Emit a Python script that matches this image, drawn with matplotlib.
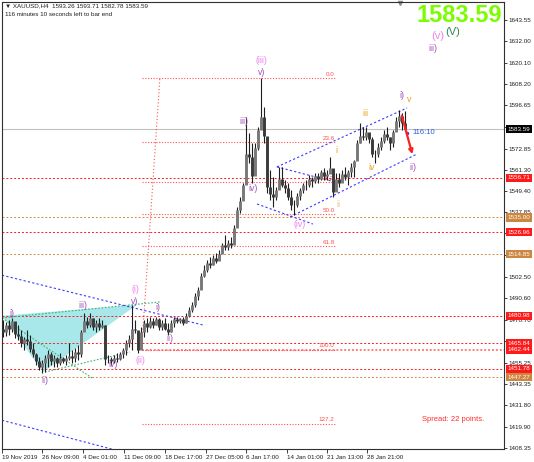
import matplotlib
matplotlib.use('Agg')
import matplotlib.pyplot as plt
import matplotlib.transforms as mtrans
from matplotlib.patches import Polygon
import numpy as np

plt.rcParams['font.family'] = ['Liberation Sans', 'DejaVu Sans']

# ---- XAUUSD H4 bars (about one bar per 3 px) ----
highs = [1478.7, 1477.6, 1478.7, 1479.8, 1477.6, 1476.0, 1473.2, 1469.4, 1473.2, 1470.5,
         1466.1, 1460.6, 1458.4, 1456.7, 1459.5, 1462.2, 1461.1, 1459.5, 1458.4, 1460.6,
         1458.4, 1459.5, 1466.1, 1462.2, 1463.3, 1465.0, 1473.2, 1482.5, 1480.3, 1482.5,
         1479.8, 1478.7, 1479.8, 1478.7, 1476.0, 1459.5, 1458.4, 1459.5, 1460.6, 1461.1,
         1463.3, 1467.7, 1470.5, 1486.9, 1478.7, 1471.5, 1474.9, 1478.7, 1479.8, 1480.3,
         1479.8, 1480.3, 1479.8, 1478.7, 1479.8, 1477.1, 1478.7, 1480.3, 1480.3, 1479.8,
         1480.3, 1482.5, 1485.8, 1488.6, 1493.5, 1496.8, 1504.5, 1508.9, 1511.7, 1513.3,
         1514.4, 1515.5, 1517.2, 1521.0, 1525.4, 1522.6, 1524.3, 1530.9, 1540.8, 1546.3,
         1554.0, 1590.3, 1581.5, 1576.0, 1576.0, 1584.8, 1611.7, 1595.7, 1562.8, 1561.1,
         1557.3, 1551.8, 1562.8, 1562.8, 1555.6, 1554.0, 1550.1, 1544.6, 1548.5, 1551.2,
         1554.0, 1555.6, 1558.4, 1557.3, 1559.5, 1559.5, 1561.1, 1562.2, 1561.1, 1568.3,
         1561.1, 1559.5, 1559.5, 1561.1, 1562.8, 1561.1, 1565.0, 1566.6, 1577.6, 1587.0,
         1584.8, 1584.8, 1581.5, 1579.3, 1572.1, 1576.0, 1579.3, 1583.1, 1584.8, 1579.3,
         1583.1, 1590.3, 1594.1, 1592.4, 1593.7]
lows = [1469.4, 1470.0, 1470.5, 1472.1, 1468.8, 1467.7, 1463.9, 1462.2, 1465.0, 1461.1,
        1458.4, 1454.0, 1451.2, 1449.6, 1450.1, 1452.9, 1454.0, 1452.9, 1452.9, 1454.0,
        1455.1, 1454.0, 1456.7, 1455.1, 1455.6, 1456.7, 1458.4, 1473.2, 1474.3, 1474.9,
        1473.2, 1472.1, 1473.2, 1474.3, 1454.0, 1455.1, 1454.0, 1455.1, 1455.6, 1456.7,
        1457.8, 1459.5, 1463.9, 1462.2, 1471.5, 1460.6, 1463.9, 1469.4, 1472.1, 1474.3,
        1474.3, 1476.0, 1473.2, 1473.2, 1473.2, 1470.5, 1472.1, 1474.9, 1477.1, 1477.1,
        1476.0, 1477.1, 1480.3, 1483.1, 1485.8, 1489.7, 1496.8, 1502.3, 1505.1, 1507.3,
        1508.9, 1510.0, 1511.7, 1515.5, 1517.2, 1517.2, 1518.2, 1522.6, 1529.8, 1537.5,
        1544.6, 1555.6, 1565.0, 1554.0, 1561.1, 1572.1, 1584.8, 1576.0, 1548.5, 1544.6,
        1540.8, 1544.6, 1551.8, 1551.8, 1548.5, 1544.6, 1539.1, 1536.4, 1540.8, 1544.6,
        1548.5, 1550.1, 1551.8, 1551.8, 1554.0, 1554.0, 1555.6, 1555.6, 1555.6, 1559.5,
        1546.3, 1550.1, 1551.8, 1554.5, 1555.6, 1552.9, 1557.3, 1557.3, 1566.6, 1576.0,
        1577.6, 1577.6, 1576.0, 1568.3, 1565.0, 1568.3, 1572.1, 1576.0, 1577.6, 1572.1,
        1573.8, 1583.1, 1584.8, 1583.1, 1582.8]
closes = [1472, 1476, 1474, 1478, 1471, 1470, 1466, 1468, 1467, 1463,
          1460, 1456, 1453, 1455, 1458, 1460, 1456, 1458, 1455, 1458,
          1456, 1458, 1459, 1458, 1461, 1460, 1472, 1478, 1476, 1480,
          1475, 1477, 1475, 1476, 1457, 1457, 1456, 1458, 1457, 1460,
          1462, 1466, 1468, 1474, 1473, 1462, 1472, 1477, 1475, 1478,
          1476, 1479, 1475, 1477, 1474, 1472, 1477, 1479, 1478, 1479,
          1477, 1481, 1484, 1487, 1492, 1495, 1503, 1506, 1510, 1509,
          1513, 1511, 1515, 1520, 1519, 1521, 1520, 1529, 1539, 1544,
          1553, 1570, 1568, 1558, 1573, 1583, 1590, 1580, 1552, 1548,
          1546, 1550, 1556, 1553, 1551, 1546, 1542, 1542, 1547, 1550,
          1553, 1553, 1556, 1555, 1558, 1556, 1560, 1558, 1559, 1562,
          1549, 1556, 1554, 1559, 1557, 1560, 1563, 1566, 1576, 1580,
          1579, 1582, 1578, 1570, 1570, 1574, 1577, 1581, 1579, 1576,
          1582, 1588, 1591, 1587, 1583.59]
first_open = 1474.0

# ---- axis texts and levels ----
date_labels = ['19 Nov 2019', '26 Nov 09:00', '4 Dec 01:00', '11 Dec 09:00', '18 Dec 17:00',
               '27 Dec 05:00', '6 Jan 17:00', '14 Jan 01:00', '21 Jan 13:00', '28 Jan 21:00']
date_pos = [-0.33, 13.0, 26.67, 40.33, 54.0, 67.67, 81.0, 94.67, 108.0, 121.33]
price_ticks = [1643.55, 1632.00, 1620.10, 1608.20, 1596.65, 1584.75, 1572.85, 1561.30,
               1549.40, 1537.85, 1526.30, 1514.40, 1502.50, 1490.60, 1478.70, 1467.15,
               1455.25, 1443.35, 1431.80, 1419.90, 1408.35]
hidden_ticks = [1584.75, 1526.30, 1514.40, 1467.15]   # covered by the price boxes
red_levels = [1556.71, 1526.96, 1480.98, 1465.84, 1451.78]
orange_levels = [1535.00, 1514.85, 1447.27]
pink_level = 1462.44
last_price = 1583.59
fib_labels = ['0.0', '23.6', '38.2', '50.0', '61.8', '100.0', '127.2']
fib_prices = [1611.7, 1576.5, 1554.7, 1537.1, 1519.4, 1462.44, 1421.8]

RED = '#FF1A1A'
ORANGE = '#D08A40'
BLUE = '#3A3AFF'
GREEN = '#3CB371'
PINK = '#EE82EE'
PURPLE = '#A050B8'
GOLD = '#E8A020'

fig = plt.figure(figsize=(5.34, 4.62), dpi=100)
ax = fig.add_axes([2 / 534, 13 / 462, 502 / 534, 447 / 462])
ax.set_xlim(-0.33, 167)
ax.set_ylim(1407.8, 1653.4)

# horizontal levels
for p in red_levels:
    ax.axhline(p, color=RED, lw=0.7, dashes=(2, 2), zorder=1)
for p in orange_levels:
    ax.axhline(p, color=ORANGE, lw=0.7, dashes=(2, 2), zorder=1)
ax.plot([46.2, 167], [pink_level, pink_level], color='#FF8080', lw=1.4, dashes=(1, 1), zorder=1)
ax.axhline(last_price, color='#C0C0C0', lw=0.8, zorder=1)

# fibonacci retracement
ax.plot([46.2, 52.3], [fib_prices[5], fib_prices[0]], color='#FF5050', lw=0.8, dashes=(1, 2), zorder=1)
for lab, p in zip(fib_labels, fib_prices):
    ax.plot([46.2, 110.7], [p, p], color='#FF5050', lw=0.8, dashes=(1, 1.5), zorder=1)
    ax.text(110.5, p + 0.6, lab, color='#FF5050', fontsize=4.5, ha='right', va='bottom')

# triangle and trend lines on the left
ax.add_patch(Polygon([[-0.33, 1481.0], [13.33, 1450.1], [44.67, 1487.0]],
                     closed=True, fc='#A8E8EA', ec='none', zorder=0.5))
ax.plot([-0.33, 52.3], [1479.8, 1488.6], color=GREEN, lw=0.8, dashes=(1.5, 1.5))
ax.plot([-0.33, 29.7], [1479.8, 1446.8], color=GREEN, lw=0.8, dashes=(1.5, 1.5))
ax.plot([14.0, 42.3], [1450.1, 1461.1], color=GREEN, lw=0.8, dashes=(1.5, 1.5))
ax.plot([-0.33, 66.7], [1503.3, 1475.9], color=BLUE, lw=0.8, dashes=(2, 2))
ax.plot([-0.33, 37.3], [1423.6, 1407.3], color=BLUE, lw=0.8, dashes=(2, 2))

# channels on the right
ax.plot([91.3, 134.7], [1562.8, 1595.2], color=BLUE, lw=0.8, dashes=(2, 2))
ax.plot([95.7, 138.0], [1535.3, 1569.9], color=BLUE, lw=0.8, dashes=(2, 2))
ax.plot([91.3, 110.7], [1562.8, 1554.5], color=BLUE, lw=0.8, dashes=(2, 2))
ax.plot([84.7, 103.3], [1542.4, 1531.4], color=BLUE, lw=0.8, dashes=(2, 2))

# candles
n = len(closes)
idx = np.arange(n)
opens = np.array([first_open] + closes[:-1], dtype=float)
cl = np.array(closes, dtype=float)
ax.vlines(idx, lows, highs, color='#1e1e1e', lw=0.8, zorder=3)
up = cl >= opens
ax.vlines(idx[up], opens[up], cl[up], color='#787878', lw=2.1, zorder=4)
ax.vlines(idx[~up], cl[~up], opens[~up], color='#3a3a3a', lw=2.1, zorder=4)

# red arrow + timer
ax.annotate('', xy=(136.7, 1568.3), xytext=(132.7, 1592.4),
            arrowprops=dict(arrowstyle='-|>', color='#FF2020', lw=1.6, mutation_scale=6), zorder=6)
ax.plot([134.7], [1581.5], 'o', color=BLUE, ms=1.5)
ax.text(136.5, 1581.5, '116:10', color='#2E5BD8', fontsize=5.5, ha='left', va='center')

# wave labels
waves = [
    ('(iii)', 86.3, 1621.0, PINK), ('v)', 86.3, 1614.4, PURPLE), ('iii)', 80.3, 1588.0, PURPLE),
    ('iv)', 83.3, 1551.2, PURPLE), ('(iv)', 99.0, 1530.9, PINK), ('i', 111.0, 1571.6, GOLD),
    ('ii', 111.7, 1542.4, '#E0BC80'), ('iii', 120.7, 1592.4, GOLD), ('iv', 122.7, 1562.2, GOLD),
    ('i)', 133.0, 1602.3, PURPLE), ('v', 135.3, 1599.6, GOLD), ('ii)', 136.7, 1562.2, PURPLE),
    ('(v)', 145.0, 1634.8, PINK), ('(V)', 150.0, 1637.0, '#2E8B57'), ('iii)', 143.3, 1627.6, PURPLE),
    ('i)', 3.0, 1482.5, PURPLE), ('iii)', 26.7, 1486.4, PURPLE), ('ii)', 14.0, 1445.2, PURPLE),
    ('iv)', 36.7, 1454.0, PURPLE), ('(i)', 44.0, 1495.7, PINK), ('v)', 44.0, 1488.6, PURPLE),
    ('(ii)', 45.7, 1456.7, PINK), ('ii)', 55.7, 1468.3, PURPLE), ('i)', 51.7, 1485.8, PURPLE),
]
for txt, x, y, c in waves:
    fs = 8 if txt in ('(V)', '(v)') else 6.3
    ax.text(x, y, txt, color=c, fontsize=fs, ha='center', va='center', zorder=7)

ax.text(160.5, 1424.0, 'Spread: 22 points.', color='#FF3030', fontsize=5.5, ha='right', va='center')

# axes styling
for s in ax.spines.values():
    s.set_color('#303030')
    s.set_linewidth(0.8)
ax.yaxis.tick_right()
ax.set_yticks(price_ticks)
ax.set_yticklabels(['' if v in hidden_ticks else f'{v:.2f}' for v in price_ticks])
ax.tick_params(axis='y', direction='out', length=2, width=0.6, labelsize=4.5, pad=1.2, colors='#202020')
ax.set_xticks(date_pos)
ax.set_xticklabels(date_labels)
ax.tick_params(axis='x', direction='out', length=3, width=0.6, labelsize=4.5, pad=1.0, colors='#202020')
for t in ax.get_xticklabels():
    t.set_ha('left')

# price boxes on the right scale
trans = mtrans.blended_transform_factory(ax.transAxes, ax.transData)
boxes = [(p, RED) for p in red_levels] + [(p, '#CD853F') for p in orange_levels] + \
        [(pink_level, RED), (last_price, 'black')]
for p, c in boxes:
    ax.text(1.007, p, f'{p:.2f}', transform=trans, fontsize=4.5, color='white',
            ha='left', va='center', clip_on=False, zorder=10,
            bbox=dict(boxstyle='square,pad=0.25', fc=c, ec='none'))

# header
fig.text(5 / 534, 1 - 6 / 462, '\u25bc XAUUSD,H4  1593.26 1593.71 1582.78 1583.59',
         fontsize=4.5, color='#202020', ha='left', va='center')
fig.text(5 / 534, 1 - 15 / 462, '116 minutes 10 seconds left to bar end',
         fontsize=4.5, color='#202020', ha='left', va='center')
fig.text(502 / 534, 1 - 16 / 462, '1583.59', fontsize=17, fontweight='bold',
         color='#7CFC00', ha='right', va='center')
ax.plot([0.793], [0.997], marker='v', color='#909090', ms=3, transform=ax.transAxes, clip_on=False)

fig.savefig('out.png', dpi=100)
